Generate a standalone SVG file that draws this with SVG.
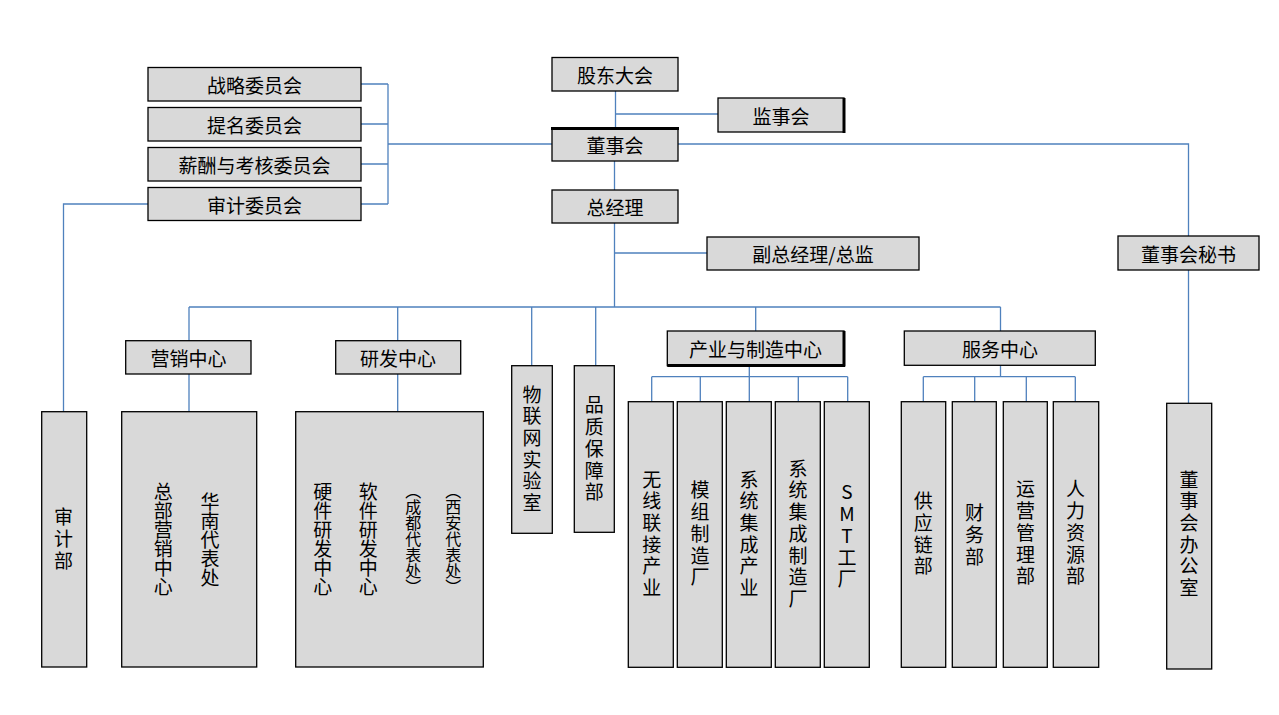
<svg xmlns="http://www.w3.org/2000/svg" width="1279" height="715" viewBox="0 0 1279 715">
<style>
.box{fill:#d9d9d9;stroke:#000;stroke-width:1.3}
.ln{stroke:#4f81bd;stroke-width:1.3;fill:none}
.thk{stroke:#000;stroke-width:3}
text{font-family:"Noto Sans CJK SC","Noto Sans CJK JP",sans-serif;font-size:19px;fill:#000}
.h{text-anchor:middle;dominant-baseline:central}
.v{writing-mode:vertical-rl;text-orientation:upright;text-anchor:middle}
.sp{letter-spacing:2.7px}
.sm{font-size:16px}
</style>
<rect width="1279" height="715" fill="#fff"/>
<g id="connectors">
<path class="ln" d="M615.5 91V128M615.5 114H718"/>
<path class="ln" d="M361 84H388M361 124H388M361 164H388M361 204H388M388 84V204M388 144H552"/>
<path class="ln" d="M148 204H63.5V411.7"/>
<path class="ln" d="M678 144H1188.5V236"/>
<path class="ln" d="M1188.5 270V403.3"/>
<path class="ln" d="M614.5 161V190M614.5 223V307M614.5 253H707"/>
<path class="ln" d="M189 307H1000.5M189 307V341M397.7 307V341M531.7 307V366M595.7 307V366M755.7 307V331M1000.5 307V331"/>
<path class="ln" d="M189 374V411.7M397.7 374V411.7"/>
<path class="ln" d="M749.3 365.7V376.7M651.7 376.7H847.7M651.7 376.7V401.7M700.3 376.7V401.7M749.3 376.7V401.7M798.3 376.7V401.7M847.7 376.7V401.7"/>
<path class="ln" d="M1000.5 365.3V376.7M923.3 376.7H1075.3M923.3 376.7V401.7M974.7 376.7V401.7M1026.3 376.7V401.7M1075.3 376.7V401.7"/>
</g>
<g id="n-gudong"><rect class="box" x="552" y="57.5" width="126" height="33.5"/><text class="h" x="615" y="74.5">股东大会</text></g>
<g id="n-jianshi"><rect class="box" x="718" y="98" width="126" height="34"/><path class="thk" d="M844 98V133"/><text class="h" x="781" y="115">监事会</text></g>
<g id="n-dongshi"><rect class="box" x="552" y="128" width="126" height="33"/><path class="thk" d="M551 128.5H679"/><text class="h" x="615" y="144.5">董事会</text></g>
<g id="n-zjl"><rect class="box" x="552" y="190" width="126" height="33"/><text class="h" x="615" y="206.5">总经理</text></g>
<g id="n-fzjl"><rect class="box" x="707" y="237" width="212" height="33"/><text class="h" x="813" y="253.5">副总经理/总监</text></g>
<g id="n-mishu"><rect class="box" x="1118" y="236" width="141" height="34"/><text class="h" x="1188.5" y="253">董事会秘书</text></g>
<g id="n-zhanlue"><rect class="box" x="148" y="67.5" width="213" height="33.5"/><text class="h" x="254.5" y="84">战略委员会</text></g>
<g id="n-timing"><rect class="box" x="148" y="107.5" width="213" height="33.5"/><text class="h" x="254.5" y="124">提名委员会</text></g>
<g id="n-xinchou"><rect class="box" x="148" y="147.5" width="213" height="33.5"/><text class="h" x="254.5" y="164">薪酬与考核委员会</text></g>
<g id="n-shenjiwyh"><rect class="box" x="148" y="187.5" width="213" height="33"/><text class="h" x="254.5" y="204">审计委员会</text></g>
<g id="n-shenjibu"><rect class="box" x="41.7" y="411.7" width="45" height="255.3"/><text class="v sp" x="63.5" y="540">审计部</text></g>
<g id="n-yingxiao"><rect class="box" x="125.7" y="340.7" width="125.3" height="33.3"/><text class="h" x="188.5" y="357.5">营销中心</text></g>
<g id="n-yingxiao-sub"><rect class="box" x="121.7" y="411.7" width="135" height="255.3"/><text class="v" x="163.3" y="539">总部营销中心</text><text class="v" x="210" y="540">华南代表处</text></g>
<g id="n-yanfa"><rect class="box" x="335.7" y="340.7" width="125" height="33.3"/><text class="h" x="398" y="357.5">研发中心</text></g>
<g id="n-yanfa-sub"><rect class="box" x="295.7" y="411.7" width="187.6" height="255.3"/><text class="v" x="322.7" y="539">硬件研发中心</text><text class="v" x="368.3" y="539">软件研发中心</text><text class="v sm" x="413.3" y="539">（成都代表处）</text><text class="v sm" x="453.3" y="539">（西安代表处）</text></g>
<g id="n-wulianwang"><rect class="box" x="511.7" y="365.7" width="40.6" height="167.6"/><text class="v sp" x="532" y="450">物联网实验室</text></g>
<g id="n-pinzhi"><rect class="box" x="574.3" y="365.7" width="40" height="166.6"/><text class="v sp" x="594.3" y="450">品质保障部</text></g>
<g id="n-chanye"><rect class="box" x="667.3" y="331" width="176.7" height="34.7"/><path class="thk" d="M844 331V366.5M667.3 365.5H845"/><text class="h" x="755.5" y="348">产业与制造中心</text></g>
<g id="n-wuxian"><rect class="box" x="628.3" y="401.7" width="45" height="265.6"/><text class="v sp" x="651.7" y="535">无线联接产业</text></g>
<g id="n-mozu"><rect class="box" x="677.3" y="401.7" width="45" height="265.6"/><text class="v sp" x="700" y="535">模组制造厂</text></g>
<g id="n-xtjccy"><rect class="box" x="726.3" y="401.7" width="45" height="265.6"/><text class="v sp" x="749" y="535">系统集成产业</text></g>
<g id="n-xtjczz"><rect class="box" x="775.3" y="401.7" width="45" height="265.6"/><text class="v sp" x="798" y="535">系统集成制造厂</text></g>
<g id="n-smt"><rect class="box" x="824.3" y="401.7" width="45" height="265.6"/><text class="v sp" x="847" y="537">SMT工厂</text></g>
<g id="n-fuwu"><rect class="box" x="904.3" y="331" width="191" height="34.3"/><text class="h" x="1000" y="348">服务中心</text></g>
<g id="n-gongying"><rect class="box" x="901.3" y="401.7" width="44.4" height="265.6"/><text class="v sp" x="923.3" y="535">供应链部</text></g>
<g id="n-caiwu"><rect class="box" x="952.3" y="401.7" width="44" height="265.6"/><text class="v sp" x="974.5" y="536">财务部</text></g>
<g id="n-yunying"><rect class="box" x="1003.3" y="401.7" width="44" height="265.6"/><text class="v sp" x="1025.5" y="534">运营管理部</text></g>
<g id="n-renli"><rect class="box" x="1053.3" y="401.7" width="45.4" height="265.6"/><text class="v sp" x="1075.5" y="534">人力资源部</text></g>
<g id="n-dsbgs"><rect class="box" x="1166.7" y="403.3" width="45" height="265.7"/><text class="v sp" x="1189" y="535">董事会办公室</text></g>
</svg>
